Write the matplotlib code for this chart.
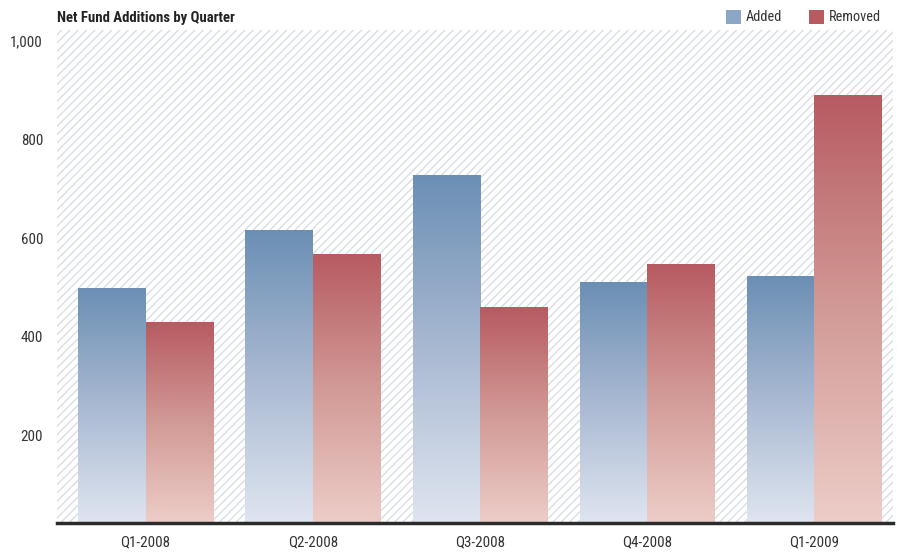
import numpy as np
import matplotlib
matplotlib.use("Agg")
from matplotlib import pyplot as plt
from matplotlib import transforms
from matplotlib.colors import LinearSegmentedColormap
from matplotlib.patches import Rectangle

quarters = ["Q1-2008", "Q2-2008", "Q3-2008", "Q4-2008", "Q1-2009"]
added = [475, 594, 704, 487, 501]
removed = [406, 544, 438, 525, 868]
y_ticks = [200, 400, 600, 800, 1000]
y_labels = ["200", "400", "600", "800", "1,000"]

plt.rcParams['font.family'] = ['Roboto Condensed', 'Roboto', 'DejaVu Sans']
plt.rcParams['hatch.linewidth'] = 1.0

W, H = 902, 554
fig = plt.figure(figsize=(W / 100, H / 100), dpi=100)
ax = fig.add_axes([57 / W, (H - 523) / H, (893 - 57) / W, (523 - 30) / H])

# hatched background
bg = Rectangle((0, 0), 1, 1, transform=ax.transAxes, facecolor="white",
               edgecolor="#d9dde5", hatch="////", linewidth=0, zorder=0)
ax.add_patch(bg)

blue = LinearSegmentedColormap.from_list("b", ["#dfe5f0", "#a9b9d2", "#6b8fb4"])
red = LinearSegmentedColormap.from_list("r", ["#edcdc8", "#d29a96", "#b75b61"])
grad = np.linspace(0, 1, 256).reshape(-1, 1)

bw = 0.403
x = np.arange(len(quarters))
for i in range(len(quarters)):
    ax.imshow(grad, cmap=blue, origin="lower", aspect="auto", zorder=2,
              extent=(x[i] - bw, x[i], 0, added[i]))
    ax.imshow(grad, cmap=red, origin="lower", aspect="auto", zorder=2,
              extent=(x[i], x[i] + bw, 0, removed[i]))
shift = 5.0 / 167.2
ax.set_xlim(-0.5 - shift, len(quarters) - 0.5 - shift)
ax.set_ylim(0, 1000)

for s in ["top", "left", "right"]:
    ax.spines[s].set_visible(False)
ax.spines["bottom"].set_linewidth(2.5)
ax.spines["bottom"].set_color("#2b2b2b")
ax.spines["bottom"].set_zorder(5)

ax.set_xticks(x)
ax.set_xticklabels(quarters, fontsize=10.8, color="#333333")
ax.set_yticks(y_ticks)
ax.set_yticklabels(y_labels, fontsize=10.8, color="#333333", va="top")
ax.tick_params(axis="both", length=0)
ax.tick_params(axis="x", pad=9)
ax.tick_params(axis="y", pad=10)
down = transforms.ScaledTranslation(0, -4 / 72, fig.dpi_scale_trans)
for lbl in ax.get_yticklabels():
    lbl.set_transform(lbl.get_transform() + down)

fig.text(57 / W, 1 - 18 / H, "Net Fund Additions by Quarter", fontsize=10.6,
         fontweight="bold", color="#222222", va="center", ha="left")

# legend
for px, name, col in [(726, "Added", "#8ca6c6"), (809, "Removed", "#b85b60")]:
    fig.add_artist(Rectangle((px / W, 1 - 24 / H), 15 / W, 14 / H,
                             transform=fig.transFigure, facecolor=col,
                             edgecolor="none"))
    fig.text((px + 20) / W, 1 - 17 / H, name, fontsize=10.3, color="#333333",
             va="center", ha="left")

fig.savefig("out.png", dpi=100)
